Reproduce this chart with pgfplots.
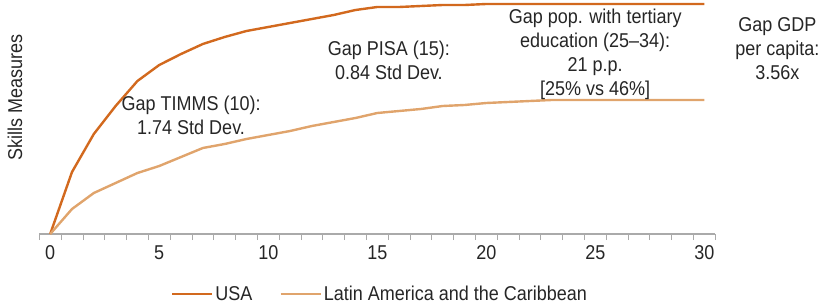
\documentclass[border=0pt]{standalone}
\usepackage{fontspec}
\setmainfont{Liberation Sans}[FakeStretch=0.9]
\usepackage{pgfplots}
\pgfplotsset{compat=1.18}
\definecolor{usa}{HTML}{D2691E}
\definecolor{lac}{HTML}{E0A46C}
\definecolor{axgray}{HTML}{AAAAAA}
\begin{document}
\begin{tikzpicture}[x=1bp,y=1bp]
\begin{axis}[
  at={(39.3bp,72bp)}, anchor=south west,
  scale only axis, width=676bp, height=232bp,
  xmin=-0.5, xmax=30.5, ymin=0, ymax=232,
  axis x line=bottom, axis y line=none,
  axis line style={axgray, line width=1.2bp, -},
  xtick={0,5,...,30}, major tick length=0pt,
  minor xtick={-0.5,0.5,...,30.5}, minor tick length=6bp,
  xtick align=outside,
  minor tick style={axgray, line width=0.8bp},
  xticklabel style={font=\fontsize{20bp}{24bp}\selectfont, text=black!85, yshift=-8bp},
  /pgf/number format/assume math mode=true,
  clip=false,
  legend style={at={(0.504,-0.259)}, anchor=center, draw=none, fill=none,
    font=\fontsize{20bp}{24bp}\selectfont, text=black!85,
    legend columns=2, /tikz/every even column/.append style={column sep=25bp}},
  legend image code/.code={\draw[#1] (0bp,0bp)--(40bp,0bp);},
]
\addplot[usa, line width=2.4bp] coordinates {
(0,0)(1,62)(2,100)(3,128)(4,153)(5,169)(6,180)(7,190)(8,197)(9,203)(10,207)
(11,211)(12,215)(13,219)(14,224)(15,227)(16,227)(17,228)(18,229)(19,229)(20,230)
(21,230)(22,230)(23,230)(24,230)(25,230)(26,230)(27,230)(28,230)(29,230)(30,230)};
\addlegendentry{USA}
\addplot[lac, line width=2.4bp] coordinates {
(0,0)(1,25)(2,41)(3,51)(4,61)(5,68)(6,77)(7,86)(8,90)(9,95)(10,99)
(11,103)(12,108)(13,112)(14,116)(15,121)(16,123)(17,125)(18,128)(19,129)(20,131)
(21,132)(22,133)(23,134)(24,134)(25,134)(26,134)(27,134)(28,134)(29,134)(30,134)};
\addlegendentry{Latin America and the Caribbean}
\node[align=center, font=\fontsize{20bp}{24bp}\selectfont, text=black!85] at (axis cs:6.46,118.5) {Gap TIMMS (10):\\1.74 Std Dev.};
\node[align=center, font=\fontsize{20bp}{24bp}\selectfont, text=black!85] at (axis cs:15.53,174) {Gap PISA (15):\\0.84 Std Dev.};
\node[align=center, font=\fontsize{20bp}{24bp}\selectfont, text=black!85] at (axis cs:24.99,180) {Gap pop. with tertiary\\education (25--34):\\21 p.p.\\{[25\% vs 46\%]}};
\node[align=center, font=\fontsize{20bp}{24bp}\selectfont, text=black!85] at (axis cs:33.35,185) {Gap GDP\\per capita:\\3.56x};
\end{axis}
\node[rotate=90, font=\fontsize{20bp}{24bp}\selectfont, text=black!85] at (15,209) {Skills Measures};
\pgfresetboundingbox
\path[use as bounding box] (0,0) rectangle (823,306);
\end{tikzpicture}
\end{document}
